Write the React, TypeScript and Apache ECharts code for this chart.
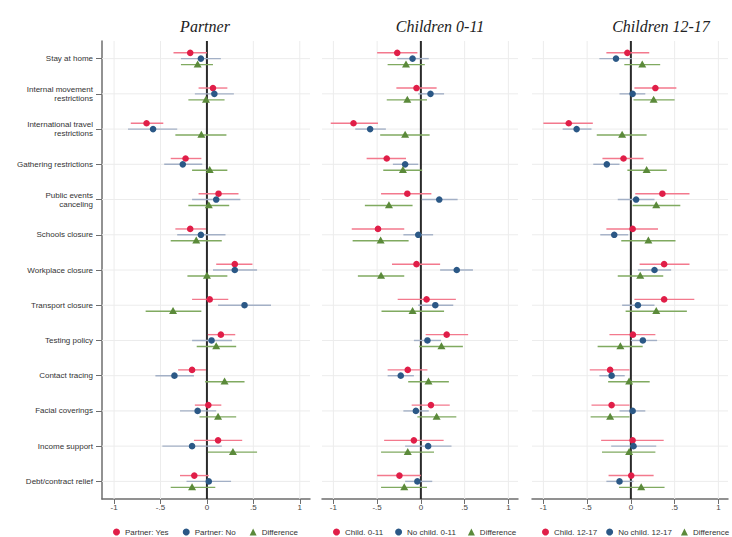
import React, { useEffect, useRef } from "react";
import * as echarts from "echarts";

const categories = [
  "Stay at home",
  "Internal movement\nrestrictions",
  "International travel\nrestrictions",
  "Gathering restrictions",
  "Public events\ncanceling",
  "Schools closure",
  "Workplace closure",
  "Transport closure",
  "Testing policy",
  "Contact tracing",
  "Facial coverings",
  "Income support",
  "Debt/contract relief",
];

const xTicks = [-1, -0.5, 0, 0.5, 1];
const panelTitles = ["Partner", "Children 0-11", "Children 12-17"];

// [estimate, lower, upper]
const partnerYes = [
  [-0.18, -0.36, 0.0], [0.065, -0.09, 0.22], [-0.65, -0.82, -0.47], [-0.23, -0.39, -0.06],
  [0.125, -0.09, 0.34], [-0.18, -0.34, -0.01], [0.3, 0.1, 0.49], [0.03, -0.16, 0.23],
  [0.15, 0.01, 0.305], [-0.16, -0.31, -0.01], [0.015, -0.13, 0.155], [0.12, -0.14, 0.38],
  [-0.136, -0.29, 0.02],
];
const partnerNo = [
  [-0.065, -0.28, 0.15], [0.08, -0.13, 0.29], [-0.58, -0.85, -0.32], [-0.26, -0.46, -0.05],
  [0.1, -0.16, 0.36], [-0.065, -0.32, 0.2], [0.3, 0.065, 0.54], [0.405, 0.12, 0.69],
  [0.05, -0.16, 0.27], [-0.35, -0.555, -0.14], [-0.1, -0.29, 0.1], [-0.16, -0.48, 0.16],
  [0.02, -0.22, 0.26],
];
const partnerDiff = [
  [-0.1, -0.28, 0.065], [-0.01, -0.2, 0.19], [-0.06, -0.34, 0.21], [0.03, -0.16, 0.22],
  [0.02, -0.2, 0.24], [-0.115, -0.39, 0.16], [0.0, -0.21, 0.22], [-0.365, -0.66, -0.06],
  [0.1, -0.11, 0.315], [0.19, -0.02, 0.405], [0.12, -0.08, 0.315], [0.28, 0.01, 0.54],
  [-0.16, -0.39, 0.09],
];
const child011 = [
  [-0.27, -0.5, -0.04], [-0.05, -0.28, 0.18], [-0.77, -1.03, -0.49], [-0.39, -0.62, -0.17],
  [-0.155, -0.455, 0.12], [-0.49, -0.79, -0.19], [-0.05, -0.33, 0.22], [0.065, -0.265, 0.4],
  [0.295, 0.055, 0.54], [-0.15, -0.38, 0.075], [0.115, -0.105, 0.33], [-0.08, -0.42, 0.26],
  [-0.245, -0.5, 0.0],
];
const noChild011 = [
  [-0.095, -0.27, 0.09], [0.11, -0.03, 0.265], [-0.58, -0.75, -0.4], [-0.18, -0.32, -0.03],
  [0.21, 0.01, 0.42], [-0.03, -0.2, 0.14], [0.41, 0.22, 0.595], [0.165, -0.03, 0.37],
  [0.075, -0.08, 0.23], [-0.23, -0.38, -0.08], [-0.057, -0.2, 0.09], [0.083, -0.18, 0.35],
  [-0.04, -0.18, 0.13],
];
const diff011 = [
  [-0.17, -0.38, 0.045], [-0.155, -0.39, 0.07], [-0.18, -0.465, 0.1], [-0.205, -0.43, 0.015],
  [-0.365, -0.64, -0.095], [-0.46, -0.78, -0.14], [-0.455, -0.72, -0.19], [-0.095, -0.45, 0.265],
  [0.235, -0.02, 0.48], [0.087, -0.145, 0.32], [0.18, -0.04, 0.405], [-0.15, -0.455, 0.15],
  [-0.19, -0.455, 0.07],
];
const child1217 = [
  [-0.04, -0.28, 0.21], [0.28, 0.04, 0.52], [-0.71, -1.0, -0.435], [-0.084, -0.325, 0.145],
  [0.36, 0.05, 0.67], [0.02, -0.28, 0.31], [0.38, 0.1, 0.67], [0.38, 0.04, 0.725],
  [0.023, -0.245, 0.28], [-0.237, -0.47, -0.015], [-0.22, -0.45, -0.015], [0.02, -0.34, 0.375],
  [0.004, -0.255, 0.26],
];
const noChild1217 = [
  [-0.17, -0.36, 0.01], [0.02, -0.13, 0.165], [-0.62, -0.78, -0.45], [-0.275, -0.43, -0.13],
  [0.06, -0.15, 0.27], [-0.19, -0.35, -0.03], [0.27, 0.08, 0.46], [0.08, -0.1, 0.27],
  [0.137, 0.0, 0.3], [-0.22, -0.36, -0.07], [0.02, -0.13, 0.165], [0.03, -0.225, 0.29],
  [-0.13, -0.28, 0.03],
];
const diff1217 = [
  [0.13, -0.075, 0.335], [0.26, 0.03, 0.5], [-0.1, -0.39, 0.18], [0.18, -0.04, 0.41],
  [0.29, 0.02, 0.565], [0.2, -0.11, 0.51], [0.107, -0.15, 0.37], [0.29, -0.06, 0.64],
  [-0.12, -0.38, 0.135], [-0.02, -0.26, 0.215], [-0.237, -0.46, -0.015], [-0.02, -0.33, 0.28],
  [0.118, -0.135, 0.385],
];

const panelSeries = [
  [
    { name: "Partner: Yes", data: partnerYes },
    { name: "Partner: No", data: partnerNo },
    { name: "Difference", data: partnerDiff },
  ],
  [
    { name: "Child. 0-11", data: child011 },
    { name: "No child. 0-11", data: noChild011 },
    { name: "Difference", data: diff011 },
  ],
  [
    { name: "Child. 12-17", data: child1217 },
    { name: "No child. 12-17", data: noChild1217 },
    { name: "Difference", data: diff1217 },
  ],
];

const STYLES = [
  { color: "#e01e48", ci: "#f3798d", offset: -0.165, shape: "circle" },
  { color: "#2b5886", ci: "#a3b0c6", offset: 0, shape: "circle" },
  { color: "#5b8a3a", ci: "#80aa60", offset: 0.17, shape: "triangle" },
];

const GRIDS = [
  { left: 102, width: 208 },
  { left: 322, width: 196 },
  { left: 532, width: 196 },
];
const TITLE_X = [200, 435, 656];
const LEGEND_X = [113, 333, 542];
const LEGEND_GAP = [14, 12, 9];

const fmtTick = (v: number) => {
  if (!xTicks.some((t) => Math.abs(t - v) < 1e-9)) return "";
  if (v === 0) return "0";
  const s = String(Math.abs(v)).replace(/^0/, "");
  return (v < 0 ? "-" : "") + s;
};

export default function App() {
  const ref = useRef<HTMLDivElement>(null);
  useEffect(() => {
    if (!ref.current) return;
    const chart = echarts.init(ref.current, null, { renderer: "svg" });
    const axisColor = "#6e6e6e";
    const font = "Liberation Sans, Arial, sans-serif";

    const series: any[] = [];
    GRIDS.forEach((_, pi) => {
      // horizontal gridlines at categories
      series.push({
        type: "custom",
        xAxisIndex: pi,
        yAxisIndex: pi,
        silent: true,
        z: 1,
        data: categories.map((_, i) => [0, i]),
        renderItem: (params: any, api: any) => {
          const cs = params.coordSys;
          const y = api.coord([0, api.value(1)])[1];
          return {
            type: "line",
            shape: { x1: cs.x, y1: y, x2: cs.x + cs.width, y2: y },
            style: { stroke: "#ececec", lineWidth: 1 },
          };
        },
      });
      // vertical gridlines
      series.push({
        type: "custom",
        xAxisIndex: pi,
        yAxisIndex: pi,
        silent: true,
        z: 1,
        data: xTicks.filter((v) => v !== 0).map((v) => [v, 0]),
        renderItem: (params: any, api: any) => {
          const cs = params.coordSys;
          const x = api.coord([api.value(0), 0])[0];
          return {
            type: "line",
            shape: { x1: x, y1: cs.y, x2: x, y2: cs.y + cs.height },
            style: { stroke: "#ececec", lineWidth: 1 },
          };
        },
      });
      // zero line
      series.push({
        type: "custom",
        xAxisIndex: pi,
        yAxisIndex: pi,
        silent: true,
        z: 2,
        data: [[0, 0]],
        renderItem: (params: any, api: any) => {
          const cs = params.coordSys;
          const x = api.coord([api.value(0), 0])[0];
          return {
            type: "line",
            shape: { x1: x, y1: cs.y, x2: x, y2: cs.y + cs.height },
            style: { stroke: "#2a2a2a", lineWidth: 2 },
          };
        },
      });
      panelSeries[pi].forEach((s, si) => {
        const st = STYLES[si];
        series.push({
          type: "custom",
          name: s.name,
          xAxisIndex: pi,
          yAxisIndex: pi,
          z: 3 + si,
          itemStyle: { color: st.color },
          encode: { x: [0, 2, 3], y: 1 },
          data: s.data.map((d, i) => [d[0], i, d[1], d[2]]),
          renderItem: (params: any, api: any) => {
            const idx = api.value(1);
            const band = api.size([0, 1])[1];
            const yc = api.coord([0, idx])[1] + band * st.offset;
            const px = api.coord([api.value(0), idx])[0];
            const lx = api.coord([api.value(2), idx])[0];
            const hx = api.coord([api.value(3), idx])[0];
            const marker =
              st.shape === "circle"
                ? { type: "circle", shape: { cx: px, cy: yc, r: 3.3 }, style: { fill: st.color } }
                : {
                    type: "polygon",
                    shape: { points: [[px, yc - 4.2], [px - 4, yc + 2.8], [px + 4, yc + 2.8]] },
                    style: { fill: st.color },
                  };
            return {
              type: "group",
              children: [
                { type: "line", shape: { x1: lx, y1: yc, x2: hx, y2: yc }, style: { stroke: st.ci, lineWidth: 1.4 } },
                marker,
              ],
            };
          },
        });
      });
    });

    const option: any = {
      animation: false,
      backgroundColor: "#ffffff",
      title: panelTitles.map((t, i) => ({
        text: t,
        left: TITLE_X[i],
        top: 13,
        textAlign: "center",
        textStyle: {
          fontFamily: "Liberation Serif, Times New Roman, serif",
          fontStyle: "italic",
          fontSize: 16,
          fontWeight: "normal",
          color: "#222",
        },
      })),
      legend: panelSeries.map((ps, i) => ({
        left: LEGEND_X[i],
        top: 528,
        padding: 0,
        itemWidth: 7,
        itemHeight: 7,
        itemGap: LEGEND_GAP[i],
        selectedMode: false,
        textStyle: { fontSize: 8, color: "#333", fontFamily: font },
        data: ps.map((s, si) => ({ name: s.name, icon: STYLES[si].shape === "circle" ? "circle" : "triangle" })),
      })),
      grid: GRIDS.map((g) => ({ left: g.left, width: g.width, top: 41, height: 458, containLabel: false })),
      xAxis: GRIDS.map((_, i) => ({
        gridIndex: i,
        type: "value",
        min: -1.13,
        max: 1.11,
        axisLine: { show: true, onZero: false, lineStyle: { color: axisColor, width: 1.5 } },
        axisTick: { show: true, length: 5, customValues: xTicks, lineStyle: { color: axisColor } },
        axisLabel: { customValues: xTicks, formatter: fmtTick, fontSize: 8, color: "#444", margin: 4, fontFamily: font },
        splitLine: { show: false },
      })),
      yAxis: GRIDS.map((_, i) => ({
        gridIndex: i,
        type: "category",
        data: categories,
        inverse: true,
        axisLine: { show: i === 0, onZero: false, lineStyle: { color: axisColor, width: 1.5 } },
        axisTick: { show: i === 0, alignWithLabel: true, length: 6, lineStyle: { color: axisColor } },
        axisLabel: { show: i === 0, fontSize: 8, lineHeight: 9, color: "#333", margin: 9, fontFamily: font },
        splitLine: { show: false },
      })),
      series,
    };
    chart.setOption(option);
    return () => chart.dispose();
  }, []);
  return (
    <div
      ref={ref}
      style={{ position: "fixed", left: 0, top: 0, width: 732, height: 537, background: "#fff" }}
    />
  );
}
